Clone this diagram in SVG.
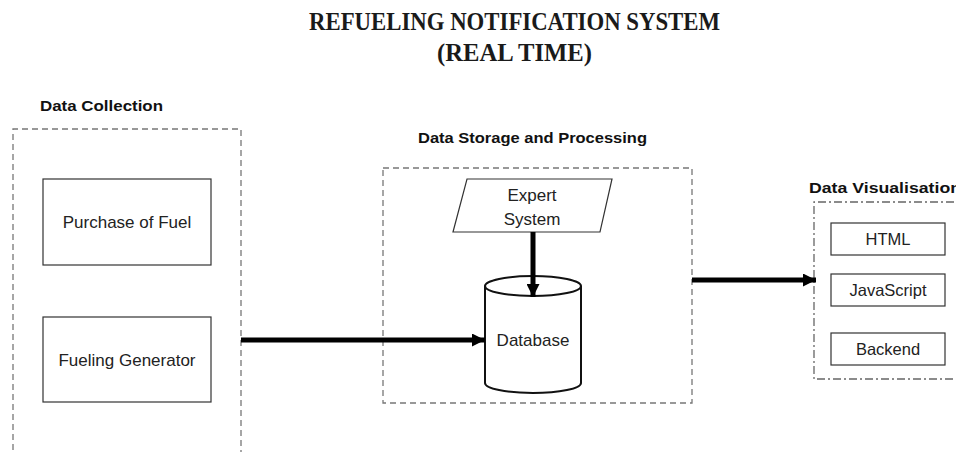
<svg xmlns="http://www.w3.org/2000/svg" width="956" height="452" viewBox="0 0 956 452">
  <style>
    .title { font-family: "Liberation Serif", "DejaVu Serif", serif; font-weight: bold; font-size: 26px; fill: #1a1a1a; }
    .head { font-family: "Liberation Sans", Arial, sans-serif; font-weight: bold; font-size: 15.5px; fill: #111; }
    .lbl { font-family: "Liberation Sans", Arial, sans-serif; font-size: 17px; fill: #222; text-anchor: middle; }
    .sm { font-family: "Liberation Sans", Arial, sans-serif; font-size: 16.5px; fill: #222; text-anchor: middle; }
    .box { fill: #fff; stroke: #333; stroke-width: 1.2; }
    .group { fill: none; stroke: #777; stroke-width: 1.3; stroke-dasharray: 6 4; }
    .groupdd { fill: none; stroke: #666; stroke-width: 1.3; stroke-dasharray: 8 3 2 3; }
    .shape { fill: #fff; stroke: #111; stroke-width: 2; }
    .conn { fill: none; stroke: #000; stroke-width: 5; }
  </style>
  <defs>
    <marker id="arrow" viewBox="0 0 10 10" refX="10" refY="5" markerWidth="2.6" markerHeight="2.6" orient="auto" markerUnits="strokeWidth">
      <path d="M0,0 L10,5 L0,10 z" fill="#000"/>
    </marker>
  </defs>

  <rect width="956" height="452" fill="#fff"/>

  <!-- title -->
  <g id="title">
    <text class="title" x="309" y="30" textLength="411" lengthAdjust="spacingAndGlyphs">REFUELING NOTIFICATION SYSTEM</text>
    <text class="title" x="437" y="61" textLength="155" lengthAdjust="spacingAndGlyphs">(REAL TIME)</text>
  </g>

  <!-- data collection -->
  <g id="data-collection">
    <text class="head" x="40" y="111" textLength="123" lengthAdjust="spacingAndGlyphs">Data Collection</text>
    <path class="group" d="M13,460 V129 H241 V460"/>
  </g>
  <g id="purchase-of-fuel">
    <rect class="box" x="43" y="179" width="168" height="86"/>
    <text class="lbl" x="127" y="228">Purchase of Fuel</text>
  </g>
  <g id="fueling-generator">
    <rect class="box" x="43" y="317" width="168" height="85"/>
    <text class="lbl" x="127" y="366">Fueling Generator</text>
  </g>

  <!-- data storage and processing -->
  <g id="data-storage">
    <text class="head" x="418" y="143" textLength="229" lengthAdjust="spacingAndGlyphs">Data Storage and Processing</text>
    <rect class="group" x="383" y="168" width="309" height="235"/>
  </g>
  <g id="expert-system">
    <polygon class="box" points="467,179 612,179 600,232 453,232" stroke-width="1.3"/>
    <text class="lbl" x="532" y="201">Expert</text>
    <text class="lbl" x="532" y="225">System</text>
  </g>
  <g id="database">
    <path class="shape" d="M485,286 V383 A48,10 0 0 0 581,383 V286"/>
    <ellipse class="shape" cx="533" cy="286" rx="48" ry="10"/>
    <text class="lbl" x="533" y="346">Database</text>
  </g>

  <!-- data visualisation -->
  <g id="data-visualisation">
    <text class="head" x="809" y="193" textLength="152" lengthAdjust="spacingAndGlyphs">Data Visualisation</text>
    <path class="groupdd" d="M970,202 H814 V379 H970"/>
  </g>
  <g id="html">
    <rect class="box" x="831" y="223" width="114" height="32"/>
    <text class="sm" x="888" y="245">HTML</text>
  </g>
  <g id="javascript">
    <rect class="box" x="831" y="274" width="114" height="32"/>
    <text class="sm" x="888" y="296">JavaScript</text>
  </g>
  <g id="backend">
    <rect class="box" x="831" y="333" width="114" height="32"/>
    <text class="sm" x="888" y="355">Backend</text>
  </g>

  <!-- connectors -->
  <g id="connectors">
    <line class="conn" x1="241" y1="340" x2="485" y2="340" marker-end="url(#arrow)"/>
    <line class="conn" x1="533" y1="232" x2="533" y2="297" marker-end="url(#arrow)" stroke-width="4"/>
    <line class="conn" x1="692" y1="280" x2="816" y2="280" marker-end="url(#arrow)"/>
  </g>
</svg>
